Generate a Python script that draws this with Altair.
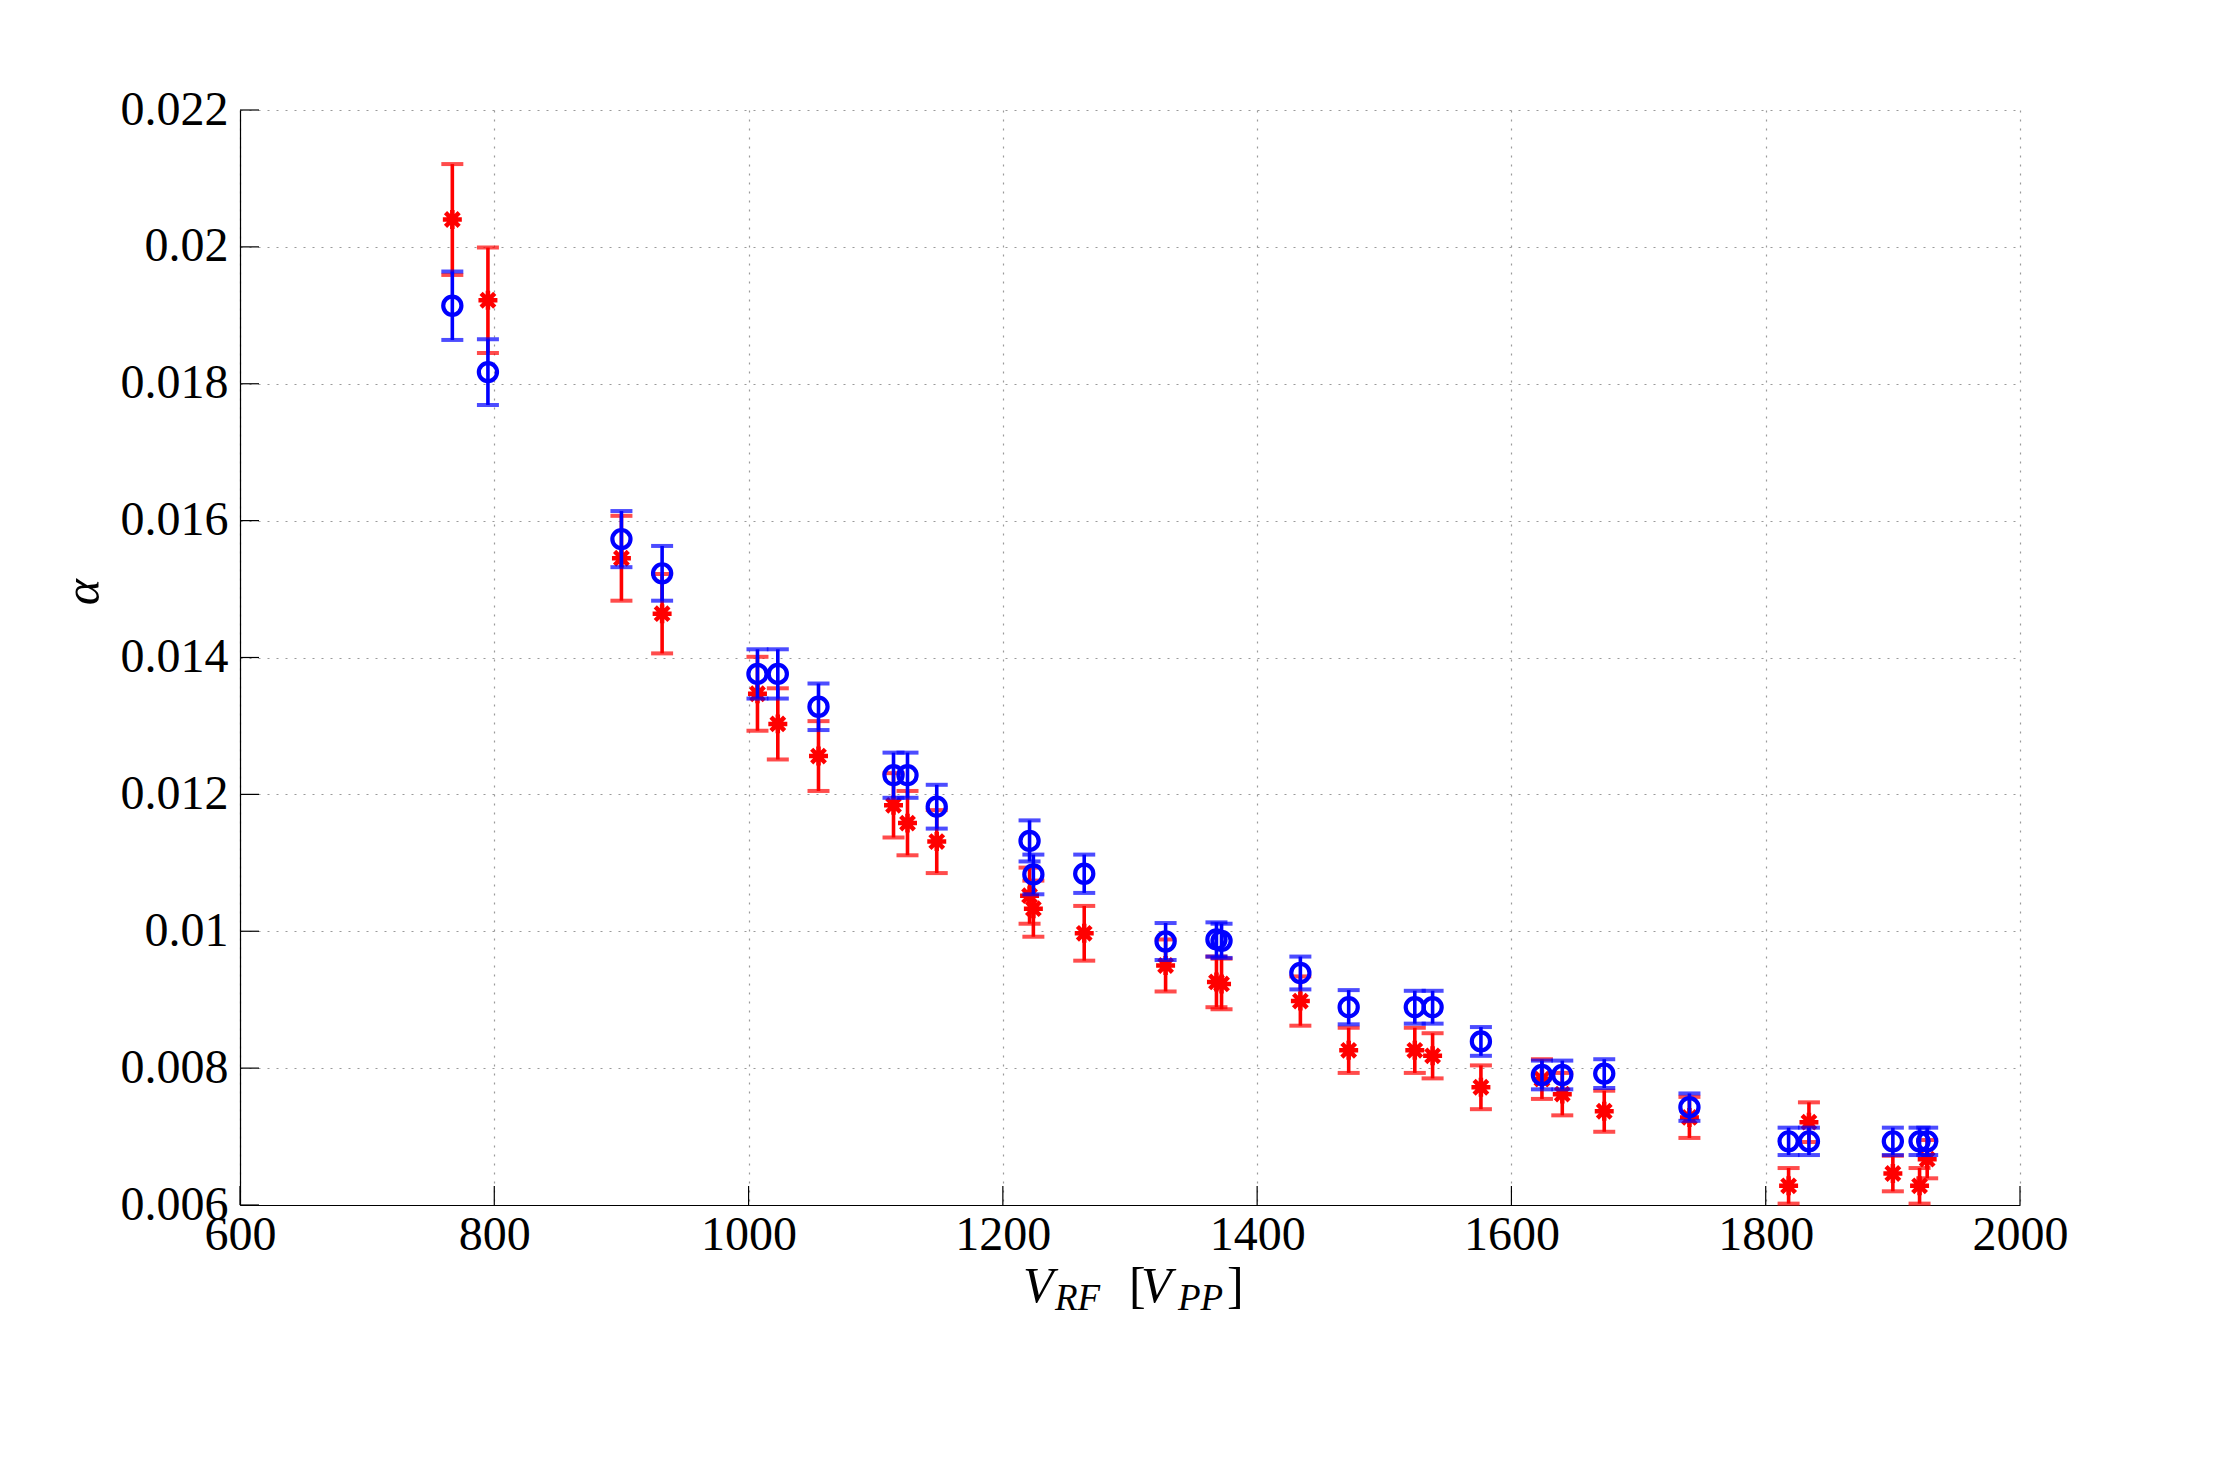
import altair as alt
import pandas as pd

# ---- data ----
v_rf = [767, 795, 900, 932, 1007, 1023, 1055, 1114, 1125, 1148, 1221, 1224, 1264, 1328,
        1368, 1372, 1434, 1472, 1524, 1538, 1576, 1624, 1640, 1673, 1740, 1818, 1834,
        1900, 1921, 1927]

blue_alpha = [0.01914, 0.01817, 0.01573, 0.01523, 0.01376, 0.01376, 0.01328, 0.01228,
              0.01228, 0.01182, 0.01132, 0.01083, 0.01084, 0.00985, 0.00988, 0.00986,
              0.00939, 0.00889, 0.00889, 0.00889, 0.00839, 0.00790, 0.00790, 0.00792,
              0.00743, 0.00693, 0.00693, 0.00693, 0.00693, 0.00693]
blue_err = [0.00050, 0.00048, 0.00041, 0.00040, 0.00036, 0.00036, 0.00034, 0.00033,
            0.00033, 0.00032, 0.00030, 0.00029, 0.00028, 0.00027, 0.00025, 0.00025,
            0.00024, 0.00025, 0.00024, 0.00024, 0.00021, 0.00021, 0.00021, 0.00021,
            0.00020, 0.00020, 0.00020, 0.00020, 0.00020, 0.00020]

red_alpha = [0.02040, 0.01922, 0.01545, 0.01464, 0.01347, 0.01303, 0.01256, 0.01184,
             0.01158, 0.01131, 0.01052, 0.01033, 0.00997, 0.00950, 0.00926, 0.00923,
             0.00898, 0.00826, 0.00826, 0.00818, 0.00772, 0.00784, 0.00762, 0.00737,
             0.00728, 0.00628, 0.00721, 0.00646, 0.00628, 0.00667]
red_err = [0.00081, 0.00077, 0.00062, 0.00058, 0.00054, 0.00052, 0.00051, 0.00047,
           0.00047, 0.00046, 0.00041, 0.00041, 0.00040, 0.00038, 0.00037, 0.00037,
           0.00036, 0.00033, 0.00033, 0.00033, 0.00032, 0.00029, 0.00031, 0.00030,
           0.00030, 0.00026, 0.00029, 0.00026, 0.00026, 0.00028]

x_ticks = [600, 800, 1000, 1200, 1400, 1600, 1800, 2000]
y_ticks = [0.006, 0.008, 0.010, 0.012, 0.014, 0.016, 0.018, 0.020, 0.022]

W, H = 1780, 1095
FONT = "Liberation Serif"
BLUE = "#0000ff"
RED = "#ff0000"


def frame(vals, errs):
    return pd.DataFrame({
        "V": v_rf,
        "alpha": vals,
        "lo": [a - e for a, e in zip(vals, errs)],
        "hi": [a + e for a, e in zip(vals, errs)],
    })


blue_df = frame(blue_alpha, blue_err)
red_df = frame(red_alpha, red_err)

xs = alt.Scale(domain=[600, 2000], nice=False, zero=False)
ys = alt.Scale(domain=[0.006, 0.022], nice=False, zero=False)

x_axis = alt.Axis(values=x_ticks, format="d", title=None, ticks=False, tickSize=0,
                  labelPadding=6, labelFontSize=48, labelFont=FONT, labelColor="black",
                  domainColor="black", domainWidth=1.2, grid=True, gridDash=[2, 7],
                  gridColor="#9a9a9a", gridWidth=1.2, labelFlush=False)
y_axis = alt.Axis(values=y_ticks, format="~g", title=None, ticks=False, tickSize=0,
                  labelPadding=12, labelFontSize=48, labelFont=FONT, labelColor="black",
                  domainColor="black", domainWidth=1.2, grid=True, gridDash=[2, 7],
                  gridColor="#9a9a9a", gridWidth=1.2, labelFlush=False)

ASTERISK = ("M-1,0L1,0M0,-1L0,1M-0.72,-0.72L0.72,0.72M-0.72,0.72L0.72,-0.72")


def series(df, color, shape, size, sw):
    base = alt.Chart(df)
    bar = base.mark_rule(color=color, strokeWidth=3.6).encode(
        x=alt.X("V:Q", scale=xs, axis=x_axis),
        y=alt.Y("lo:Q", scale=ys, axis=y_axis),
        y2="hi:Q",
    )
    cap_lo = base.mark_tick(color=color, orient="horizontal", size=22, thickness=4).encode(
        x=alt.X("V:Q", scale=xs), y=alt.Y("lo:Q", scale=ys))
    cap_hi = base.mark_tick(color=color, orient="horizontal", size=22, thickness=4).encode(
        x=alt.X("V:Q", scale=xs), y=alt.Y("hi:Q", scale=ys))
    pts = base.mark_point(color=color, shape=shape, filled=False, strokeWidth=sw,
                          size=size, opacity=1).encode(
        x=alt.X("V:Q", scale=xs), y=alt.Y("alpha:Q", scale=ys))
    return [bar, cap_lo, cap_hi, pts]


# inward tick marks (MATLAB style)
xt = alt.Chart(pd.DataFrame({"t": x_ticks})).mark_rule(color="black", strokeWidth=1.2).encode(
    x=alt.X("t:Q", scale=xs), y=alt.value(H), y2=alt.value(H - 19))
yt = alt.Chart(pd.DataFrame({"t": y_ticks})).mark_rule(color="black", strokeWidth=1.2).encode(
    y=alt.Y("t:Q", scale=ys), x=alt.value(0), x2=alt.value(19))

one = alt.Data(values=[{}])


def txt(s, x, y, size, italic=True, angle=0, align="left", baseline="alphabetic"):
    kw = dict(text=s, font=FONT, fontSize=size, color="black", align=align, baseline=baseline)
    if italic:
        kw["fontStyle"] = "italic"
    if angle:
        kw["angle"] = angle
    return alt.Chart(one).mark_text(**kw).encode(x=alt.value(x), y=alt.value(y))


title_layers = [
    txt("V", 783, 1192, 50),
    txt("RF", 815, 1200, 37),
    txt("[", 889, 1192, 50, italic=False),
    txt("V", 901, 1192, 50),
    txt("PP", 938, 1200, 37),
    txt("]", 987, 1192, 50, italic=False),
    txt("α", -156, 482, 50, angle=270, align="center", baseline="middle"),
]

layers = (series(red_df, RED, ASTERISK, 360, 4.5) + series(blue_df, BLUE, "circle", 330, 4.2)
          + [xt, yt] + title_layers)

chart = alt.layer(*layers).properties(
    width=W, height=H,
    autosize=alt.AutoSizeParams(type="none"),
    padding={"left": 240, "top": 110, "right": 2213 - 240 - W, "bottom": 1471 - 110 - H},
    background="white",
).configure_view(stroke=None)

chart.save("out.html", embed_options={"renderer": "svg", "actions": False})
